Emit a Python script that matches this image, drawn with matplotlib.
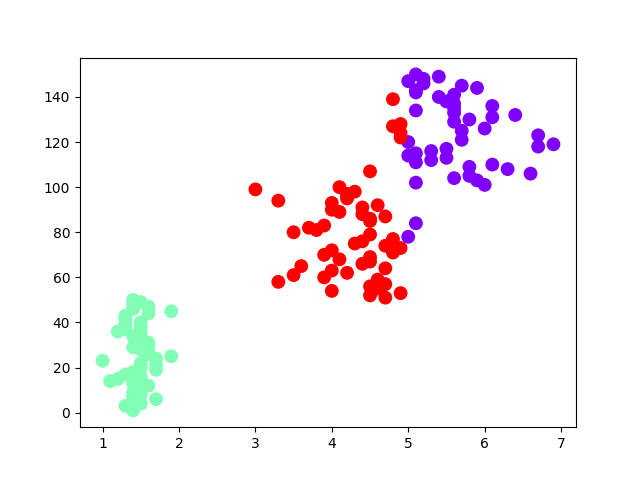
import numpy as np
import matplotlib
matplotlib.use('Agg')
import matplotlib.pyplot as plt

# petal length of each sample, in order (x axis)
petal_length = [
    1.4, 1.4, 1.3, 1.5, 1.4, 1.7, 1.4, 1.5, 1.4, 1.5,
    1.5, 1.6, 1.4, 1.1, 1.2, 1.5, 1.3, 1.4, 1.7, 1.5,
    1.7, 1.5, 1.0, 1.7, 1.9, 1.6, 1.6, 1.5, 1.4, 1.6,
    1.6, 1.5, 1.5, 1.4, 1.5, 1.2, 1.3, 1.5, 1.3, 1.5,
    1.3, 1.3, 1.3, 1.6, 1.9, 1.4, 1.6, 1.4, 1.5, 1.4,
    4.7, 4.5, 4.9, 4.0, 4.6, 4.5, 4.7, 3.3, 4.6, 3.9,
    3.5, 4.2, 4.0, 4.7, 3.6, 4.4, 4.5, 4.1, 4.5, 3.9,
    4.8, 4.0, 4.9, 4.7, 4.3, 4.4, 4.8, 5.0, 4.5, 3.5,
    3.8, 3.7, 3.9, 5.1, 4.5, 4.5, 4.7, 4.4, 4.1, 4.0,
    4.4, 4.6, 4.0, 3.3, 4.2, 4.2, 4.2, 4.3, 3.0, 4.1,
    6.0, 5.1, 5.9, 5.6, 5.8, 6.6, 4.5, 6.3, 5.8, 6.1,
    5.1, 5.3, 5.5, 5.0, 5.1, 5.3, 5.5, 6.7, 6.9, 5.0,
    5.7, 4.9, 6.7, 4.9, 5.7, 6.0, 4.8, 4.9, 5.6, 5.8,
    6.1, 6.4, 5.6, 5.1, 5.6, 6.1, 5.6, 5.5, 4.8, 5.4,
    5.6, 5.1, 5.1, 5.9, 5.7, 5.2, 5.0, 5.2, 5.4, 5.1,
]

# sample number (y axis)
sample_no = list(range(1, 151))

# cluster of each sample: 0 purple, 1 green, 2 red
labels = [1] * 50 + [2] * 50 + [0] * 50
for i in [77, 83]:
    labels[i] = 0
for i in [106, 121, 123, 126, 127, 138]:
    labels[i] = 2

fig, ax = plt.subplots(figsize=(6.4, 4.8), dpi=100)
ax.scatter(petal_length, sample_no, c=labels, cmap='rainbow', s=80)

plt.savefig('out.png')
